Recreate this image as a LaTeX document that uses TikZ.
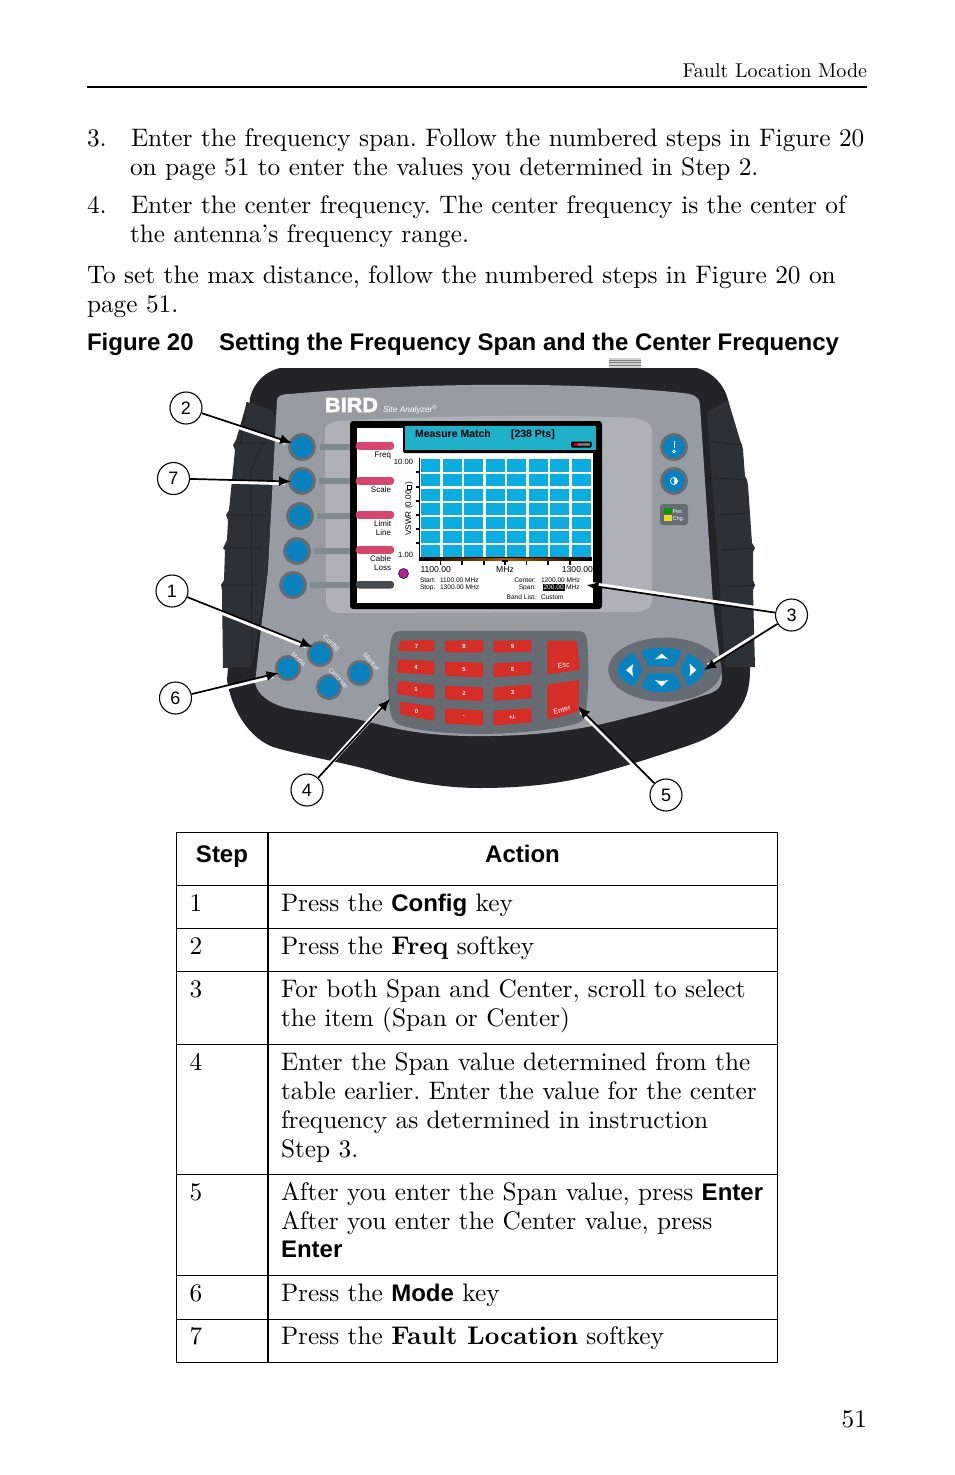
\documentclass[tikz,border=0pt]{standalone}
\usepackage{fontspec}
\setmainfont[BoldFont=lmroman10-bold.otf]{lmroman10-regular.otf}
\usetikzlibrary{arrows.meta}
\newfontfamily\hv{Liberation Sans}
\newfontfamily\hvheavy[FakeBold=2.5]{Liberation Sans Bold}
\definecolor{bodyc}{HTML}{212528}
\definecolor{gripc}{HTML}{2B3135}
\definecolor{facec}{HTML}{979CA3}
\definecolor{panelc}{HTML}{AEB1B8}
\definecolor{padc}{HTML}{656C73}
\definecolor{keyred}{HTML}{D62D27}
\definecolor{keyblue}{HTML}{0A82C0}
\definecolor{ringc}{HTML}{666C72}
\definecolor{cellc}{HTML}{0BACDF}
\definecolor{headc}{HTML}{20B0CA}
\definecolor{softc}{HTML}{D8456F}
\definecolor{barc}{HTML}{7F8A91}
\newcommand{\rmf}{\fontsize{25.3}{29}\selectfont\frenchspacing}
\newcommand{\hvb}{\hv\bfseries\fontsize{24}{28}\selectfont}
\newcommand{\sbf}{\bfseries\fontsize{25.5}{29}\selectfont}
\newcommand{\smallbox}{{\setlength\fboxsep{0pt}\setlength\fboxrule{.8pt}\fbox{\rule{0pt}{3.6pt}\hspace{3.6pt}}}}
\tikzset{
  tx/.style={anchor=base west,inner sep=0pt,outer sep=0pt,font=\rmf},
  txr/.style={tx,anchor=base east},
  txc/.style={tx,anchor=base},
  sm/.style={inner sep=0pt,outer sep=0pt,font=\hv\fontsize{#1}{#1}\selectfont},
  smb/.style={inner sep=0pt,outer sep=0pt,font=\hv\bfseries\fontsize{#1}{#1}\selectfont},
  smr/.style={sm=#1,anchor=base east},
  sml/.style={sm=#1,anchor=base west},
  smc/.style={sm=#1,anchor=base},
  keylab/.style={smb=6,text=white},
  softbtn/.style={circle,inner sep=0pt,minimum size=25pt,fill=keyblue,draw=ringc,line width=3pt,outer sep=0pt},
  lowbtn/.style={softbtn,minimum size=23.5pt,line width=2.6pt},
  callnode/.style={circle,draw=black,fill=white,line width=1.1pt,minimum size=32pt,inner sep=0pt,font=\hv\fontsize{18}{18}\selectfont},
  callarrow/.style={draw=black,line width=1.7pt,-{Latex[length=12pt,width=10pt]}},
  halo/.style={draw=white,line width=4pt,shorten >=6pt},
  rule/.style={line width=#1,black},
  rule/.default=1pt,
  redkey/.style={fill=keyred,rounded corners=1.2pt,draw=none},
  bluekey/.style={fill=keyblue,draw=none},
}
\newcommand{\callout}[4]{%
  \draw[halo,transform canvas={shift={(#3pt,#4pt)}}] (#1) -- (#2);
  \draw[callarrow] (#1) -- (#2);}
\begin{document}
\begin{tikzpicture}[x=1pt,y=-1pt]
\useasboundingbox (0,0) rectangle (954,1475);
\fill[white] (0,0) rectangle (954,1475);

% ---- page text
\node[txr,font=\fontsize{20}{24}\selectfont\frenchspacing] (head) at (867,77) {Fault Location Mode};
\coordinate (ruleA) at (87,87); \coordinate (ruleB) at (867,87);
\draw[rule=2pt] (ruleA) -- (ruleB);
\node[tx] (n3) at (87,146) {3.};
\node[tx] (l1) at (131,146) {Enter the frequency span. Follow the numbered steps in Figure 20};
\node[tx] (l2) at (130,175) {on page 51 to enter the values you determined in Step 2.};
\node[tx] (n4) at (87,213) {4.};
\node[tx] (l3) at (131,213) {Enter the center frequency. The center frequency is the center of};
\node[tx] (l4) at (130,242) {the antenna’s frequency range.};
\node[tx] (l5) at (87,283) {To set the max distance, follow the numbered steps in Figure 20 on};
\node[tx] (l6) at (87,312) {page 51.};
\node[tx,font=\hvb] (fig) at (87,350) {Figure 20};
\node[tx,font=\hvb] (cap) at (219,350) {Setting the Frequency Span and the Center Frequency};
\node[txr] (pg) at (867,1427) {51};

% ---- device: top sliver
\fill[gray!35] (609,358) rectangle (641,368);
\foreach \yy in {360,362.5,365}{\draw[gray,line width=.4pt] (609,\yy) -- (641,\yy);}
% body
\fill[bodyc] (280,368) -- (697,368)
  .. controls (712,372) and (724,384) .. (728,400)
  -- (750,670)
  .. controls (750,690) and (745,703) .. (735,715)
  .. controls (725,728) and (713,737) .. (690,745)
  .. controls (660,755) and (630,765) .. (600,773)
  .. controls (570,782) and (530,788) .. (480,788)
  .. controls (440,788) and (400,780) .. (370,770)
  .. controls (340,762) and (300,755) .. (273,747)
  .. controls (250,738) and (232,712) .. (227,680)
  -- (250,398)
  .. controls (254,382) and (266,371) .. (280,368) -- cycle;
% left grip
\fill[gripc] (247,402) -- (272,410) -- (276,420) -- (268,570) -- (252,667) -- (223,668) -- (222,590) -- (221,585) -- (224,580) -- (225,550) -- (223,548) -- (227,540)
   -- (228,520) -- (226,515) -- (229,510) -- (235,450) -- (233,445) -- (236,440) -- cycle;
\draw[bodyc,line width=.9pt] (235,443) -- (266,443) (228,515) -- (265,515) (224,548) -- (262,548) (222,585) -- (258,585) (252,667) -- (251,470) -- (263,443);
\draw[bodyc,line width=.9pt] (247,402) -- (240,445);
% right grip
\fill[gripc] (728,400) -- (707,412) -- (709,440) -- (718,560) -- (725,667) -- (755,667) -- (753,590) -- (755,585) -- (753,580) -- (753,552) -- (755,548) -- (752,543) -- (748,485)
  -- (747,480) -- (745,476) -- (743,450) -- (742,445) -- (740,440) -- cycle;
\draw[bodyc,line width=.9pt] (712,442) -- (742,445) (715,478) -- (746,480) (717,515) -- (749,513) (722,550) -- (753,548) (724,587) -- (755,585);
% face
\fill[facec] (277,400) .. controls (277,396) and (282,394) .. (290,394)
  .. controls (400,384) and (560,380) .. (683,393)
  .. controls (695,394) and (700,398) .. (700,405)
  -- (713,603) -- (722,677)
  .. controls (722,688) and (716,692) .. (705,695)
  .. controls (680,703) and (650,713) .. (630,717)
  .. controls (600,725) and (560,735) .. (490,736)
  .. controls (430,737) and (400,730) .. (373,723)
  .. controls (345,715) and (300,712) .. (283,707)
  .. controls (268,702) and (258,695) .. (255,683)
  -- (260,637) -- (268,570) -- cycle;
% panel around screen
\fill[panelc] (325,430) .. controls (325,424) and (330,422) .. (340,421)
  .. controls (420,416) and (560,414) .. (633,418)
  .. controls (645,419) and (652,424) .. (652,432)
  -- (652,600) .. controls (652,608) and (645,612) .. (635,612)
  -- (340,613) .. controls (330,613) and (326,608) .. (326,600) -- cycle;
% logo
\node[text=white,sm=14] (logo) at (351.5,405) {\resizebox{53pt}{14pt}{\hvheavy BIRD}};
\node[sml=8.5,text=white,font=\hv\itshape\fontsize{8.4}{9}\selectfont] (sa) at (383,412.5) {Site Analyzer\textsuperscript{®}};
% softkey stems
\fill[barc] (320,444) rectangle (352,450) (319,478) rectangle (352,484) (317,513) rectangle (352,519) (314,548) rectangle (352,554) (310,582) rectangle (352,588);
% screen
\fill[black,rounded corners=3pt] (350,421) rectangle (602,609);
\fill[white] (357,428) rectangle (593,603);
\fill[black,rounded corners=2pt] (403,424) rectangle (600,453);
\fill[headc] (405,426) rectangle (596,450);
\node[sml=10.5,font=\hv\bfseries\fontsize{10.5}{11}\selectfont] (mm) at (415,437) {Measure Match};
\node[sml=10.5,font=\hv\bfseries\fontsize{10.5}{11}\selectfont] (pts) at (511,437) {[238 Pts]};
\fill[black,rounded corners=1pt] (571,441.5) rectangle (591.5,447.5);
\fill[gray!60!black!80] (575,443) rectangle (590,446);
\fill[red!80!black] (574,443) rectangle (578,446);
% softkey labels and bars
\foreach \yy in {442,477,511,546}{\fill[softc,rounded corners=3pt] (356,\yy) rectangle (394,\yy+7.8);}
\fill[ringc!70!black,rounded corners=3pt] (356,581) rectangle (394,588.5);
\node[smr=8] (sk1) at (391,457) {Freq};
\node[smr=8] (sk2) at (391,492) {Scale};
\node[smr=8] (sk3) at (391,526) {Limit};
\node[smr=8] (sk3b) at (391,535) {Line};
\node[smr=8] (sk4) at (391,561) {Cable};
\node[smr=8] (sk5) at (391,570) {Loss};
% chart
\fill[white] (420,458) rectangle (592,557);
\foreach \xa/\xb in {420.7/440,442.7/462,464/483.3,486/505.3,506.7/526,528.7/548,550/569.3,572/591.3}{
  \foreach \ya/\yb in {459/472.3,474/486,489/501,503/515,517/529,531/543,545/556.7}{
    \fill[cellc] (\xa,\ya) rectangle (\xb,\yb);}}
\draw[black,line width=1.4pt] (419.7,458) -- (419.7,561);
\fill[black] (419,557) rectangle (592,561);
\shade[left color=black,right color=black,middle color=orange!70!black] (421,558.2) rectangle (591,560);
\foreach \yy in {472,487,501,515,529,543}{\draw[black,line width=1.2pt] (415.5,\yy) -- (420,\yy);}
\foreach \xx in {440.7,462,484,505,526.7,548,570}{\draw[black,line width=1.3pt] (\xx,561) -- (\xx,565);}
\draw[black,line width=2.5pt] (502,561) -- (508,561);
\node[smr=7.6] (v10) at (413,464) {10.00};
\node[smr=7.6] (v1) at (413,557) {1.00};
\node[sm=8.2,rotate=90] (vs) at (409,509) {VSWR (0.00\smallbox)};
\fill[magenta!85!blue!85!black] (403.5,573.5) circle (5pt);
\draw[blue!60!black,line width=.6pt] (403.5,573.5) circle (5pt);
\node[sml=8.6] (f1) at (420.5,572) {1100.00};
\node[smc=8.6] (f2) at (505,572) {MHz};
\node[smr=8.6] (f3) at (593,572) {1300.00};
\node[sml=6.6] (st) at (420,582) {Start:};
\node[sml=6.6] (st2) at (440,582) {1100.00 MHz};
\node[sml=6.6] (sp) at (420,589.5) {Stop:};
\node[sml=6.6] (sp2) at (440,589.5) {1300.00 MHz};
\node[smr=6.6] (ce) at (536,582) {Center:};
\node[sml=6.6] (ce2) at (541,582) {1200.00 MHz};
\node[smr=6.6] (sn) at (536,589.5) {Span:};
\fill[black] (543,584) rectangle (565,590.5);
\node[sml=6.6,text=white] (sn2) at (543.5,589.5) {200.00};
\node[sml=6.6] (sn3) at (566,589.5) {MHz};
\node[smr=6.6] (bl) at (536,599) {Band List:};
\node[sml=6.6] (bl2) at (541,599) {Custom};
% softkey buttons
\node[softbtn] (b1) at (302,447) {};
\node[softbtn] (b2) at (302,481) {};
\node[softbtn] (b3) at (300,516) {};
\node[softbtn] (b4) at (297,551) {};
\node[softbtn] (b5) at (293,585) {};
% right buttons
\node[softbtn] (pw) at (674,447) {};
\node[softbtn] (co) at (674,481) {};
\draw[white,line width=.8pt] (674,441) -- (674,448);
\draw[white,line width=.8pt] (674,451.5) circle (1.4pt);
\fill[white] (674,481) circle (3.6pt);
\fill[keyblue] (674,477.4) arc (90:270:3.6pt) -- cycle;
\draw[white,line width=.6pt] (674,481) circle (3.6pt);
\fill[padc,rounded corners=3pt] (660,504) rectangle (688,525);
\fill[green!60!black] (663.5,508) rectangle (672,514);
\fill[yellow!90!black] (663.5,514.5) rectangle (672,520.5);
\node[sml=5.6,text=white] (pwr) at (672.5,513) {Pwr.};
\node[sml=5.6,text=white] (chg) at (672.5,520) {Chg.};
% lower left buttons
\node[lowbtn] (cfg) at (320,654) {};
\node[lowbtn] (mod) at (288,668) {};
\node[lowbtn] (cal) at (329,687) {};
\node[lowbtn] (mrk) at (360,673) {};
\node[sm=6.8,text=white!90!gray,rotate=-42] (lcfg) at (331,643) {Config};
\node[sm=6.8,text=white!90!gray,rotate=-42] (lmod) at (298.5,659.5) {Mode};
\node[sm=6.4,text=white!90!gray,rotate=-48] (lcal) at (338.5,678) {Calibrate};
\node[sm=6.8,text=white!90!gray,rotate=-48] (lmrk) at (371.5,662) {Marker};
% keypad
\fill[padc] (400,631) -- (578,631)
  .. controls (584,631) and (586,634) .. (587,640)
  .. controls (589,660) and (589,685) .. (586,712)
  .. controls (585,720) and (582,722) .. (575,724)
  .. controls (530,736) and (440,738) .. (400,725)
  .. controls (393,722) and (391,718) .. (390,710)
  .. controls (387,690) and (388,660) .. (391,640)
  .. controls (392,634) and (395,631) .. (400,631) -- cycle;
\begin{scope}[shift={(380,570)},x=.3333pt,y=-.3333pt]
  \fill[redkey] (60,212)--(163,210)--(163,245)--(55,243)--cycle;
  \fill[redkey] (195,212)--(310,210)--(310,247)--(195,247)--cycle;
  \fill[redkey] (340,212)--(455,210)--(455,245)--(340,248)--cycle;
  \fill[redkey] (55,268)--(163,273)--(163,315)--(50,308)--cycle;
  \fill[redkey] (195,275)--(310,278)--(310,322)--(195,318)--cycle;
  \fill[redkey] (340,280)--(455,275)--(455,315)--(340,322)--cycle;
  \fill[redkey] (55,333)--(163,345)--(163,387)--(50,372)--cycle;
  \fill[redkey] (195,347)--(310,352)--(310,393)--(195,388)--cycle;
  \fill[redkey] (340,352)--(455,343)--(455,385)--(340,393)--cycle;
  \fill[redkey] (60,395)--(163,410)--(163,453)--(60,433)--cycle;
  \fill[redkey] (195,415)--(310,422)--(310,467)--(195,460)--cycle;
  \fill[redkey] (340,422)--(455,415)--(455,457)--(340,467)--cycle;
  \fill[redkey] (502,212)--(590,212)--(600,300)--(502,313)--cycle;
  \fill[redkey] (502,343)--(598,330)--(595,425)--(502,450)--cycle;
  \node[keylab] (k7) at (110,228) {7};
  \node[keylab] (k8) at (252,229) {8};
  \node[keylab] (k9) at (398,229) {9};
  \node[keylab] (k4) at (108,291) {4};
  \node[keylab] (k5) at (252,298) {5};
  \node[keylab] (k6) at (398,298) {6};
  \node[keylab] (k1) at (108,358) {1};
  \node[keylab] (k2) at (252,370) {2};
  \node[keylab] (k3) at (398,368) {3};
  \node[keylab] (k0) at (110,423) {0};
  \node[keylab] (km) at (252,440) {-};
  \node[keylab] (kp) at (398,443) {+/-};
  \node[keylab,sm=7.2,rotate=5] (kesc) at (551,286) {Esc};
  \node[keylab,sm=7.2,rotate=14] (ken) at (546,420) {Enter};
  % direction pad
  \fill[padc] (855,299) ellipse [x radius=170,y radius=96];
  \fill[bluekey,rounded corners=1.5pt] (783,243) .. controls (820,230) and (870,230) .. (906,243) -- (885,289) -- (805,289) -- cycle;
  \fill[bluekey,rounded corners=1.5pt] (805,310) -- (885,310) -- (906,352) .. controls (870,372) and (820,372) .. (783,352) -- cycle;
  \fill[bluekey,rounded corners=1.5pt] (760,248) -- (789,299) -- (762,350) .. controls (730,335) and (712,318) .. (713,298) .. controls (715,280) and (735,260) .. (760,248) -- cycle;
  \fill[bluekey,rounded corners=1.5pt] (925,248) .. controls (950,262) and (970,280) .. (975,298) .. controls (970,318) and (950,338) .. (925,350) -- (901,299) -- cycle;
  \fill[white] (825,268) -- (845,251) -- (865,268) .. controls (850,264) and (840,264) .. (825,268) -- cycle;
  \fill[white] (825,330) .. controls (840,334) and (850,334) .. (865,330) -- (845,349) -- cycle;
  \fill[white] (760,282) -- (738,300) -- (760,319) .. controls (756,306) and (756,295) .. (760,282) -- cycle;
  \fill[white] (928,280) -- (949,300) -- (928,319) .. controls (932,306) and (932,293) .. (928,280) -- cycle;
\end{scope}

% ---- callouts
\coordinate (t2) at (292,443);
\coordinate (t7) at (291,481.5);
\coordinate (t1) at (312.5,647);
\coordinate (t6) at (278.5,673);
\coordinate (t4) at (390,699);
\coordinate (t5) at (578,706.5);
\coordinate (t3a) at (586.5,585);
\coordinate (t3b) at (704,670);
\node[callnode] (c2) at (186,408) {2};
\node[callnode] (c7) at (173.5,478.5) {7};
\node[callnode] (c1) at (172,591) {1};
\node[callnode] (c6) at (175.5,698) {6};
\node[callnode] (c4) at (307,790) {4};
\node[callnode] (c5) at (666,795) {5};
\node[callnode] (c3) at (791.5,615) {3};
\callout{c2}{t2}{-0.6}{-1.6}
\callout{c7}{t7}{0}{-1.8}
\callout{c1}{t1}{-0.7}{-1.6}
\callout{c6}{t6}{0.4}{-1.7}
\callout{c4}{t4}{-0.5}{0.5}
\callout{c5}{t5}{-1.1}{-1.1}
\callout{c3}{t3a}{0.2}{1.7}
\callout{c3}{t3b}{-0.9}{1.4}

% ---- table
\coordinate (tl) at (176.5,832.5); \coordinate (tr) at (777.5,832.5);
\coordinate (bl) at (176.5,1362.5); \coordinate (br) at (777.5,1362.5);
\coordinate (ml) at (268,832.5); \coordinate (mr) at (268,1362.5);
\draw[rule=1.1pt] (tl) rectangle (br);
\draw[rule=1.6pt] (ml) -- (mr);
\foreach \yy/\ww in {885.5/1.1,928.5/1.1,971.5/1.6,1044.5/1.1,1174.5/1.1,1275.5/1.1,1319.5/1.6}{
  \draw[black,line width=\ww pt] (176.5,\yy) -- (777.5,\yy);}
\node[txc,font=\hvb] (th1) at (222,862) {Step};
\node[txc,font=\hvb] (th2) at (522.5,862) {Action};
\node[tx] (s1) at (189.5,911) {1};
\node[tx] (a1) at (281,911) {Press the {\hvb Config} key};
\node[tx] (s2) at (189.5,954) {2};
\node[tx] (a2) at (281,954) {Press the {\sbf Freq} softkey};
\node[tx] (s3) at (189.5,997) {3};
\node[tx] (a3) at (281,997) {For both Span and Center, scroll to select};
\node[tx] (a3b) at (281,1026) {the item (Span or Center)};
\node[tx] (s4) at (189.5,1070) {4};
\node[tx] (a4) at (281,1070) {Enter the Span value determined from the};
\node[tx] (a4b) at (281,1099) {table earlier. Enter the value for the center};
\node[tx] (a4c) at (281,1128) {frequency as determined in instruction};
\node[tx] (a4d) at (281,1157) {Step 3.};
\node[tx] (s5) at (189.5,1200) {5};
\node[tx] (a5) at (281,1200) {After you enter the Span value, press {\hvb Enter}};
\node[tx] (a5b) at (281,1229) {After you enter the Center value, press};
\node[tx,font=\hvb] (a5c) at (281,1257) {Enter};
\node[tx] (s6) at (189.5,1301) {6};
\node[tx] (a6) at (281,1301) {Press the {\hvb Mode} key};
\node[tx] (s7) at (189.5,1344) {7};
\node[tx] (a7) at (281,1344) {Press the {\sbf Fault Location} softkey};
\end{tikzpicture}
\end{document}
